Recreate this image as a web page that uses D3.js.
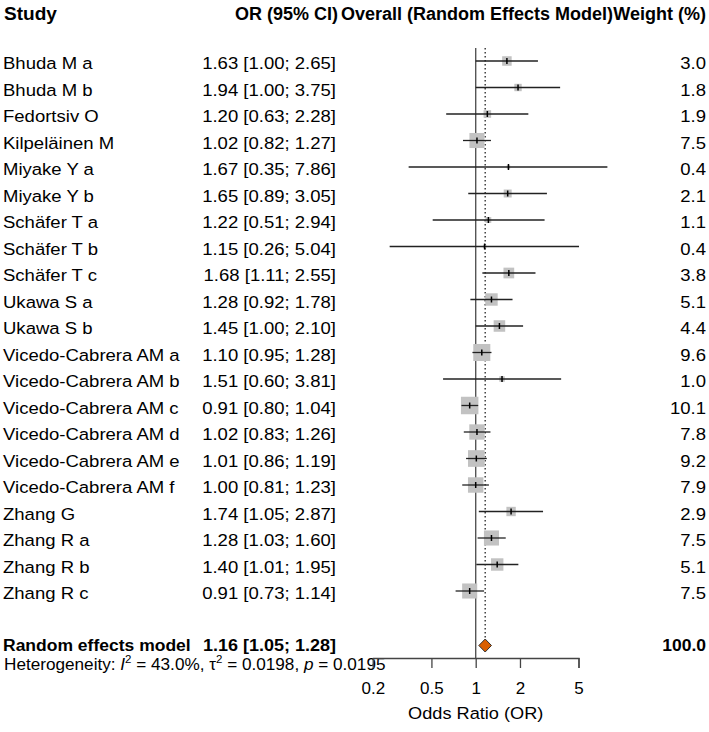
<!DOCTYPE html>
<html>
<head>
<meta charset="utf-8">
<script src="https://cdn.jsdelivr.net/npm/d3@7"></script>
<style>
  html, body { margin: 0; padding: 0; background: #fff; }
  svg { display: block; font-family: "Liberation Sans", Arial, sans-serif; }
</style>
</head>
<body>
<div id="chart"></div>
<script>
/* Forest plot — random effects meta-analysis */

const studies = [
  'Bhuda M a', 'Bhuda M b', 'Fedortsiv O', 'Kilpeläinen M', 'Miyake Y a', 'Miyake Y b',
  'Schäfer T a', 'Schäfer T b', 'Schäfer T c', 'Ukawa S a', 'Ukawa S b',
  'Vicedo-Cabrera AM a', 'Vicedo-Cabrera AM b', 'Vicedo-Cabrera AM c', 'Vicedo-Cabrera AM d',
  'Vicedo-Cabrera AM e', 'Vicedo-Cabrera AM f', 'Zhang G', 'Zhang R a', 'Zhang R b', 'Zhang R c'
];
const orValues = [1.63, 1.94, 1.20, 1.02, 1.67, 1.65, 1.22, 1.15, 1.68, 1.28, 1.45,
                  1.10, 1.51, 0.91, 1.02, 1.01, 1.00, 1.74, 1.28, 1.40, 0.91];
const ciLower  = [1.00, 1.00, 0.63, 0.82, 0.35, 0.89, 0.51, 0.26, 1.11, 0.92, 1.00,
                  0.95, 0.60, 0.80, 0.83, 0.86, 0.81, 1.05, 1.03, 1.01, 0.73];
const ciUpper  = [2.65, 3.75, 2.28, 1.27, 7.86, 3.05, 2.94, 5.04, 2.55, 1.78, 2.10,
                  1.28, 3.81, 1.04, 1.26, 1.19, 1.23, 2.87, 1.60, 1.95, 1.14];
const weights  = [3.0, 1.8, 1.9, 7.5, 0.4, 2.1, 1.1, 0.4, 3.8, 5.1, 4.4,
                  9.6, 1.0, 10.1, 7.8, 9.2, 7.9, 2.9, 7.5, 5.1, 7.5];

const pooledOR = 1.16, pooledLower = 1.05, pooledUpper = 1.28, pooledWeight = 100.0;
const hetI2 = '43.0%', hetTau2 = '0.0198', hetP = '0.0195';
const tickValues = [0.2, 0.5, 1, 2, 5];

const W = 709, H = 732;
const FS = 17;
const SX = 1.09;   // the source picture is a bit stretched sideways

const svg = d3.select('#chart').append('svg')
  .attr('width', W).attr('height', H);

const x = d3.scaleLog().domain([0.2, 5]).range([372.9, 578.5]);
const y = d3.scalePoint().domain(studies).range([61, 591]);
const yPooled = 645.5;
const axisY = 658;

const fmt = v => v.toFixed(2);
const ciText = (o, l, u) => `${fmt(o)} [${fmt(l)}; ${fmt(u)}]`;
const place = (px, py, sx = SX) => `translate(${px},${py}) scale(${sx},1)`;

// Headers
const head = svg.append('g').attr('font-weight', 'bold').attr('font-size', '18px').attr('fill', '#000');
head.append('text').attr('transform', place(4, 20, 1.06)).text('Study');
head.append('text').attr('x', 338).attr('y', 20).attr('text-anchor', 'end').text('OR (95% CI)');
head.append('text').attr('x', 477).attr('y', 20).attr('text-anchor', 'middle').text('Overall (Random Effects Model)');
head.append('text').attr('x', 706).attr('y', 20).attr('text-anchor', 'end').text('Weight (%)');

// Reference line at OR = 1 and dotted pooled line
svg.append('line')
  .attr('x1', x(1)).attr('x2', x(1))
  .attr('y1', 48).attr('y2', axisY)
  .attr('stroke', '#555').attr('stroke-width', 1.4);

svg.append('line')
  .attr('x1', x(pooledOR)).attr('x2', x(pooledOR))
  .attr('y1', 48).attr('y2', yPooled - 6.5)
  .attr('stroke', '#222').attr('stroke-width', 1.3)
  .attr('stroke-dasharray', '1.5,2.5');

// Study rows
const rows = svg.append('g').selectAll('g').data(studies).join('g')
  .attr('transform', d => `translate(0,${y(d)})`);

rows.append('text')
  .attr('transform', place(3, 8)).attr('font-size', FS + 'px')
  .text(d => d);

rows.append('text')
  .attr('transform', place(336, 8)).attr('font-size', FS + 'px').attr('text-anchor', 'end')
  .text((d, i) => ciText(orValues[i], ciLower[i], ciUpper[i]));

rows.append('text')
  .attr('transform', place(706, 8)).attr('font-size', FS + 'px').attr('text-anchor', 'end')
  .text((d, i) => weights[i].toFixed(1));

// Boxes (side ~ sqrt of weight)
rows.append('rect')
  .attr('x', (d, i) => x(orValues[i]) - 2.75 * Math.sqrt(weights[i]))
  .attr('y', (d, i) => -2.75 * Math.sqrt(weights[i]))
  .attr('width', (d, i) => 5.5 * Math.sqrt(weights[i]))
  .attr('height', (d, i) => 5.5 * Math.sqrt(weights[i]))
  .attr('fill', '#c2c2c2');

rows.append('line')
  .attr('x1', (d, i) => x(ciLower[i])).attr('x2', (d, i) => x(ciUpper[i]))
  .attr('y1', 0).attr('y2', 0)
  .attr('stroke', '#222').attr('stroke-width', 1.3);

rows.append('line')
  .attr('x1', (d, i) => x(orValues[i])).attr('x2', (d, i) => x(orValues[i]))
  .attr('y1', -3).attr('y2', 3)
  .attr('stroke', '#000').attr('stroke-width', 1.5);

// Pooled row
svg.append('text').attr('transform', place(3, 650.5, 1.03))
  .attr('font-size', FS + 'px').attr('font-weight', 'bold')
  .text('Random effects model');
svg.append('text').attr('transform', place(336, 650.5, 1.06))
  .attr('font-size', FS + 'px').attr('font-weight', 'bold').attr('text-anchor', 'end')
  .text(ciText(pooledOR, pooledLower, pooledUpper));
svg.append('text').attr('transform', place(706, 650.5, 1.03))
  .attr('font-size', FS + 'px').attr('font-weight', 'bold').attr('text-anchor', 'end')
  .text(pooledWeight.toFixed(1));

svg.append('path')
  .attr('d', `M${x(pooledLower)},${yPooled} L${x(pooledOR)},${yPooled - 6.5} L${x(pooledUpper)},${yPooled} L${x(pooledOR)},${yPooled + 6.5} Z`)
  .attr('fill', '#d95f02').attr('stroke', '#333').attr('stroke-width', 1);

// Heterogeneity line
const het = svg.append('text').attr('transform', place(4, 670, 1.04)).attr('font-size', '16.5px');
het.append('tspan').text('Heterogeneity: ');
het.append('tspan').attr('font-style', 'italic').text('I');
het.append('tspan').attr('font-size', '11px').attr('dy', -7).text('2');
het.append('tspan').attr('dy', 7).text(` = ${hetI2}, τ`);
het.append('tspan').attr('font-size', '11px').attr('dy', -7).text('2');
het.append('tspan').attr('dy', 7).text(` = ${hetTau2}, `);
het.append('tspan').attr('font-style', 'italic').text('p');
het.append('tspan').text(` = ${hetP}`);

// Axis
const axis = svg.append('g')
  .attr('transform', `translate(0,${axisY})`)
  .call(d3.axisBottom(x).tickValues(tickValues).tickFormat(d3.format('')).tickSize(10).tickPadding(14));
axis.select('.domain').attr('stroke', '#444').attr('stroke-width', 1.3);
axis.selectAll('.tick line').attr('stroke', '#444').attr('stroke-width', 1.3);
axis.selectAll('.tick text')
  .attr('font-size', FS + 'px').attr('fill', '#000')
  .attr('font-family', '"Liberation Sans", Arial, sans-serif');

svg.append('text')
  .attr('transform', place(x(1), 719, 1.07))
  .attr('text-anchor', 'middle').attr('font-size', FS + 'px')
  .text('Odds Ratio (OR)');
</script>
</body>
</html>
